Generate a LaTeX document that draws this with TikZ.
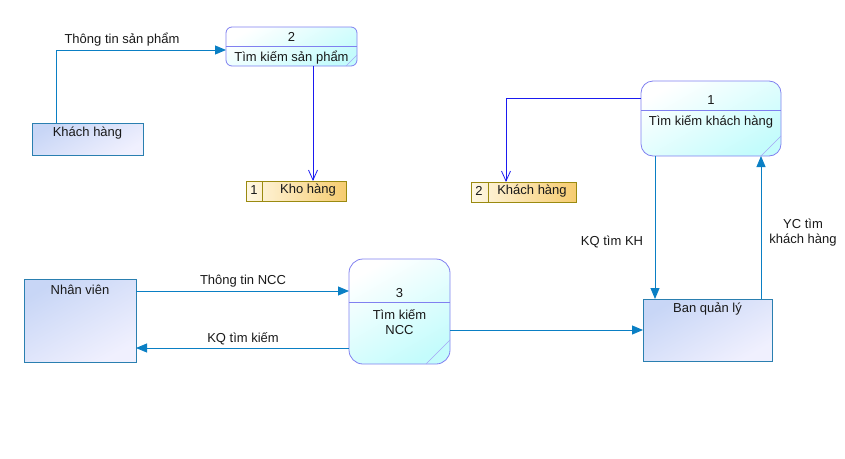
\documentclass[tikz,border=0pt]{standalone}
\usepackage{fontspec}
\setmainfont{Liberation Sans}
\usetikzlibrary{arrows.meta,calc}
\definecolor{flowc}{HTML}{0A7FC4}
\definecolor{procb}{HTML}{8080F0}
\definecolor{procf}{HTML}{C4FCFC}
\definecolor{entb}{HTML}{2A7FB0}
\definecolor{entf1}{HTML}{C8D6F6}
\definecolor{entf2}{HTML}{F0F0FE}
\definecolor{stb}{HTML}{9A8A10}
\definecolor{stf1}{HTML}{FFF8E4}
\definecolor{stf2}{HTML}{F6CC70}
\definecolor{dflow}{HTML}{1A1AF0}
\tikzset{
  every node/.style={font=\fontsize{13}{15}\selectfont, inner sep=0pt, outer sep=0pt},
  proc/.style={draw=procb, line width=0.8pt, top color=white, bottom color=procf, shading angle=30},
  ent/.style={draw=entb, line width=0.8pt, top color=entf1, bottom color=entf2, shading angle=30},
  store/.style={draw=stb, line width=0.8pt, left color=stf1, right color=stf2},
  flow/.style={draw=flowc, line width=0.9pt, -{Triangle[length=11pt,width=9pt]}},
  dfl/.style={draw=dflow, line width=0.7pt, -{Straight Barb[length=10pt,width=9pt,line width=0.8pt]}},
  lbl/.style={text=black!90, align=center},
}
\begin{document}
\begin{tikzpicture}[x=1pt,y=-1pt]
\useasboundingbox (0,0) rectangle (845,458);
% Processes
\node[proc, rounded corners=6pt, minimum width=131pt, minimum height=39pt] (p2) at (291.5,46.5) {};
\node[proc, rounded corners=12pt, minimum width=140pt, minimum height=75pt] (p1) at (711,118.5) {};
\node[proc, rounded corners=14pt, minimum width=101pt, minimum height=105pt] (p3) at (399.5,311.5) {};
\draw[procb, line width=0.8pt] ($(p2.west)+(0,-0.5)$) -- ($(p2.east)+(0,-0.5)$);
\draw[procb, line width=0.8pt] ($(p1.north west)+(0,29)$) -- ($(p1.north east)+(0,29)$);
\draw[procb, line width=0.8pt] ($(p3.north west)+(0,43)$) -- ($(p3.north east)+(0,43)$);
\draw[procb!70, line width=0.6pt] ($(p2.south east)+(-11,0)$) -- ($(p2.south east)+(0,-11)$);
\draw[procb!70, line width=0.6pt] ($(p1.south east)+(-20,0)$) -- ($(p1.south east)+(0,-20)$);
\draw[procb!70, line width=0.6pt] ($(p3.south east)+(-24,0)$) -- ($(p3.south east)+(0,-24)$);
\node[lbl] (p2n) at (291.5,37) {2};
\node[lbl] (p2t) at (291.5,58) {Tìm kiếm sản phẩm};
\node[lbl] (p1n) at (711,100) {1};
\node[lbl] (p1t) at (711,122) {Tìm kiếm khách hàng};
\node[lbl] (p3n) at (399.5,293) {3};
\node[lbl] (p3t) at (399.5,322) {Tìm kiếm\\NCC};
% Entities
\node[ent, minimum width=111pt, minimum height=32pt] (kh) at (87.5,139) {};
\node[lbl] (kht) at (87.5,133) {Khách hàng};
\node[ent, minimum width=112pt, minimum height=83pt] (nv) at (80,320.5) {};
\node[lbl] (nvt) at (80,290) {Nhân viên};
\node[ent, minimum width=129pt, minimum height=62pt] (bql) at (707.5,330) {};
\node[lbl] (bqlt) at (707.5,309) {Ban quản lý};
% Stores
\node[store, minimum width=100pt, minimum height=20pt] (s1) at (296,191) {};
\draw[stb, line width=0.8pt] ($(s1.north west)+(16,0)$) -- ($(s1.south west)+(16,0)$);
\node[lbl] (s1n) at (254,190) {1};
\node[lbl] (s1t) at (308,190) {Kho hàng};
\node[store, minimum width=105pt, minimum height=20pt] (s2) at (523.5,192) {};
\draw[stb, line width=0.8pt] ($(s2.north west)+(17,0)$) -- ($(s2.south west)+(17,0)$);
\node[lbl] (s2n) at (479,191) {2};
\node[lbl] (s2t) at (532,191) {Khách hàng};
% Flows
\draw[flow] ($(kh.north west)+(24,0)$) |- ($(p2.west)+(0,3.5)$);
\node[lbl] (l1) at (122,40) {Thông tin sản phẩm};
\draw[dfl] ($(p2.south)+(21.5,0)$) -- ($(s1.north)+(17,0)$);
\draw[dfl] ($(p1.north west)+(0,17)$) -| ($(s2.north west)+(35,0)$);
\draw[flow] ($(p1.south west)+(14,0)$) -- ($(bql.north west)+(12,0)$);
\node[lbl] (l2) at (612,242) {KQ tìm KH};
\draw[flow] ($(bql.north west)+(118,0)$) -- ($(p1.south west)+(120,0)$);
\node[lbl] (l3) at (803,233) {YC tìm\\khách hàng};
\draw[flow] ($(nv.north east)+(0,12)$) -- ($(p3.north west)+(0,32)$);
\node[lbl] (l4) at (243,281) {Thông tin NCC};
\draw[flow] ($(p3.south west)+(0,-16)$) -- ($(nv.south east)+(0,-14)$);
\node[lbl] (l5) at (243,339) {KQ tìm kiếm};
\draw[flow] ($(p3.north east)+(0,71)$) -- (bql.west);
\end{tikzpicture}
\end{document}
